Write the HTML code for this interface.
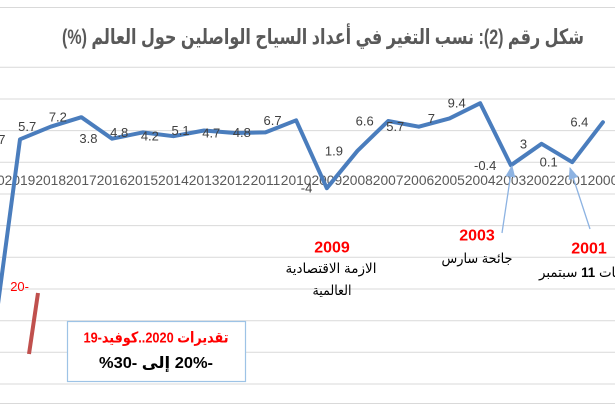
<!DOCTYPE html>
<html>
<head>
<meta charset="utf-8">
<style>
html,body{margin:0;padding:0;background:#fff;}
body{width:615px;height:410px;overflow:hidden;}
svg{display:block;}
.ar{font-family:"Liberation Sans","DejaVu Sans",sans-serif;direction:rtl;unicode-bidi:embed;}
.lbl{font-family:"Liberation Sans",sans-serif;font-size:13px;fill:#404040;text-anchor:end;}
.ax{font-family:"Liberation Sans",sans-serif;font-size:13.8px;fill:#595959;text-anchor:middle;}
</style>
</head>
<body>
<svg width="615" height="410" viewBox="0 0 615 410" xmlns="http://www.w3.org/2000/svg">
<defs>
<marker id="ah" markerWidth="12" markerHeight="10" refX="11" refY="5" orient="auto" markerUnits="userSpaceOnUse">
<path d="M0,0 L12,5 L0,10 Z" fill="#8db3e2"/>
</marker>
<clipPath id="cp"><rect x="0" y="0" width="615" height="410"/></clipPath>
</defs>
<rect width="615" height="410" fill="#fff"/>
<g stroke="#d9d9d9" stroke-width="1">
<line x1="0" y1="7.5" x2="615" y2="7.5"/>
<line x1="0" y1="403.5" x2="615" y2="403.5"/>
<line x1="0" y1="67.3" x2="615" y2="67.3"/>
<line x1="0" y1="99" x2="615" y2="99"/>
<line x1="0" y1="130.6" x2="615" y2="130.6"/>
<line x1="0" y1="162.3" x2="615" y2="162.3"/>
<line x1="0" y1="194" x2="615" y2="194"/>
<line x1="0" y1="225.6" x2="615" y2="225.6"/>
<line x1="0" y1="257.3" x2="615" y2="257.3"/>
<line x1="0" y1="289" x2="615" y2="289"/>
<line x1="0" y1="320.7" x2="615" y2="320.7"/>
<line x1="0" y1="352.3" x2="615" y2="352.3"/>
<line x1="0" y1="384" x2="615" y2="384"/>
</g>

<text class="ar" x="323" y="44" text-anchor="middle" font-size="21" font-weight="bold" fill="#595959" textLength="522" lengthAdjust="spacingAndGlyphs">شكل رقم (2): نسب التغير في أعداد السياح الواصلين حول العالم (%)</text>

<g class="ax">
<text x="-10.68" y="185">2020</text>
<text x="20" y="185">2019</text>
<text x="50.68" y="185">2018</text>
<text x="81.36" y="185">2017</text>
<text x="112.04" y="185">2016</text>
<text x="142.72" y="185">2015</text>
<text x="173.4" y="185">2014</text>
<text x="204.08" y="185">2013</text>
<text x="234.76" y="185">2012</text>
<text x="265.44" y="185">2011</text>
<text x="296.12" y="185">2010</text>
<text x="326.8" y="185">2009</text>
<text x="357.48" y="185">2008</text>
<text x="388.16" y="185">2007</text>
<text x="418.84" y="185">2006</text>
<text x="449.52" y="185">2005</text>
<text x="480.2" y="185">2004</text>
<text x="510.88" y="185">2003</text>
<text x="541.56" y="185">2002</text>
<text x="572.24" y="185">2001</text>
<text x="602.92" y="185">2000</text>
</g>

<polyline clip-path="url(#cp)" fill="none" stroke="#4a7dbd" stroke-width="4" stroke-linejoin="round" stroke-linecap="round"
points="-10.68,369 20,139.3 50.68,126.7 81.36,117.2 112.04,138.7 142.72,132.4 173.4,136.2 204.08,130.5 234.76,133 265.44,132.4 296.12,120.3 326.8,188.2 357.48,150.8 388.16,121 418.84,126.7 449.52,118.4 480.2,103.2 510.88,165.3 541.56,143.8 572.24,162.2 602.92,122.2"/>

<g class="lbl">
<text x="5.5" y="143.8">3.7</text>
<text x="36.2" y="131.2">5.7</text>
<text x="66.9" y="121.7">7.2</text>
<text x="97.5" y="143.2">3.8</text>
<text x="128.2" y="136.9">4.8</text>
<text x="158.9" y="140.7">4.2</text>
<text x="189.6" y="135">5.1</text>
<text x="220.3" y="137.5">4.7</text>
<text x="250.9" y="136.9">4.8</text>
<text x="281.6" y="124.8">6.7</text>
<text x="312.3" y="192.7">-4</text>
<text x="343" y="155.3">1.9</text>
<text x="373.7" y="125.5">6.6</text>
<text x="404.3" y="131.2">5.7</text>
<text x="435" y="122.9">7</text>
<text x="465.7" y="107.7">9.4</text>
<text x="496.4" y="169.8">-0.4</text>
<text x="527.1" y="148.3">3</text>
<text x="557.7" y="166.7">0.1</text>
<text x="588.4" y="126.7">6.4</text>
</g>

<line x1="502" y1="233" x2="512" y2="166" stroke="#8db3e2" stroke-width="1.3" marker-end="url(#ah)"/>
<line x1="590" y1="229" x2="570" y2="168" stroke="#8db3e2" stroke-width="1.3" marker-end="url(#ah)"/>

<text x="332" y="252.5" text-anchor="middle" font-family="Liberation Sans, sans-serif" font-size="16" font-weight="bold" fill="#ff0000">2009</text>
<text class="ar" x="331" y="273" text-anchor="middle" font-size="14" fill="#000" textLength="91" lengthAdjust="spacingAndGlyphs">الازمة الاقتصادية</text>
<text class="ar" x="332" y="295" text-anchor="middle" font-size="14" fill="#000" textLength="39" lengthAdjust="spacingAndGlyphs">العالمية</text>

<text x="477" y="240.5" text-anchor="middle" font-family="Liberation Sans, sans-serif" font-size="16" font-weight="bold" fill="#ff0000">2003</text>
<text class="ar" x="477" y="263" text-anchor="middle" font-size="14" fill="#000" textLength="71" lengthAdjust="spacingAndGlyphs">جائحة سارس</text>

<text x="589" y="253.5" text-anchor="middle" font-family="Liberation Sans, sans-serif" font-size="16" font-weight="bold" fill="#ff0000">2001</text>
<text class="ar" x="589" y="277" text-anchor="middle" font-size="14" fill="#000" textLength="100" lengthAdjust="spacingAndGlyphs">هجمات <tspan font-weight="bold">11</tspan> سبتمبر</text>

<text x="29" y="291" text-anchor="end" font-family="Liberation Sans, sans-serif" font-size="13" fill="#ff0000">20-</text>
<line x1="38" y1="293" x2="29" y2="354" stroke="#c0504d" stroke-width="4" stroke-linecap="butt"/>

<rect x="67.5" y="321.5" width="178" height="60" fill="#fff" stroke="#9dc3e6" stroke-width="1.2"/>
<text class="ar" x="156" y="342.5" text-anchor="middle" font-size="15" font-weight="bold" fill="#ff0000" textLength="145" lengthAdjust="spacingAndGlyphs">تقديرات 2020..كوفيد-19</text>
<text class="ar" x="156" y="368" text-anchor="middle" font-size="16" font-weight="bold" fill="#000" textLength="114" lengthAdjust="spacingAndGlyphs">-20% إلى -30%</text>
</svg>
</body>
</html>
